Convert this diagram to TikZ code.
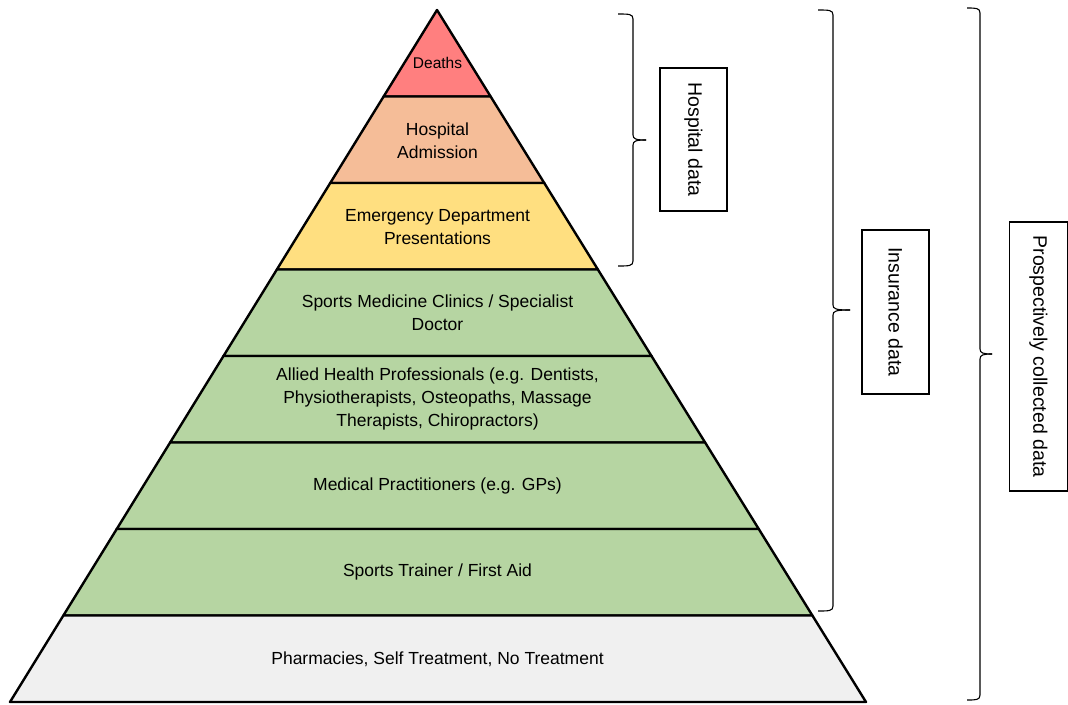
\documentclass[tikz,border=0pt]{standalone}
\usepackage{fontspec}
\setmainfont{Liberation Sans}
\usetikzlibrary{calc}
\definecolor{cdeath}{HTML}{FF7F7F}
\definecolor{chosp}{HTML}{F5BD98}
\definecolor{ced}{HTML}{FFDF80}
\definecolor{cgreen}{HTML}{B6D5A2}
\definecolor{cgrey}{HTML}{F0F0F0}
\newcommand\curlybrace[7]{%
  \coordinate (#1-top) at (#2,#5);
  \coordinate (#1-tip) at (#4,#6);
  \coordinate (#1-bot) at (#2,#7);
  \draw[bracepen] (#1-top) .. controls (#3-4,#5) and (#3,#5) .. (#3,#5+5)
     -- (#3,#6-5) .. controls (#3,#6-1) and (#3+3,#6) .. (#1-tip);
  \draw[bracepen] (#1-bot) .. controls (#3-4,#7) and (#3,#7) .. (#3,#7-5)
     -- (#3,#6+5) .. controls (#3,#6+1) and (#3+3,#6) .. (#1-tip);
}
\begin{document}
\begin{tikzpicture}[x=1pt,y=-1pt,
  layer/.style={draw=black,line width=2.4pt,line join=round},
  lbl/.style={align=center,font=\fontsize{17.5}{23}\selectfont,inner sep=0pt},
  bracepen/.style={line width=1.1pt},
  sidebox/.style={draw,line width=1.1pt,rotate=-90,inner sep=0pt,
    font=\fontsize{19.5}{22}\selectfont}]
\useasboundingbox (0,0) rectangle (1068,704);
\coordinate (A) at (437,10);
\coordinate (BL) at (10,702);
\coordinate (BR) at (866,702);
\coordinate (L0) at (A); \coordinate (R0) at (A);
\foreach \k in {1,...,7}{
  \coordinate (L\k) at ($(A)!\k/8!(BL)$);
  \coordinate (R\k) at ($(A)!\k/8!(BR)$);
}
\coordinate (L8) at (BL); \coordinate (R8) at (BR);
% layers
\filldraw[layer,fill=cdeath] (A) -- (R1) -- (L1) -- cycle;
\filldraw[layer,fill=chosp] (L1) -- (R1) -- (R2) -- (L2) -- cycle;
\filldraw[layer,fill=ced] (L2) -- (R2) -- (R3) -- (L3) -- cycle;
\filldraw[layer,fill=cgreen] (L3) -- (R3) -- (R4) -- (L4) -- cycle;
\filldraw[layer,fill=cgreen] (L4) -- (R4) -- (R5) -- (L5) -- cycle;
\filldraw[layer,fill=cgreen] (L5) -- (R5) -- (R6) -- (L6) -- cycle;
\filldraw[layer,fill=cgreen] (L6) -- (R6) -- (R7) -- (L7) -- cycle;
\filldraw[layer,fill=cgrey] (L7) -- (R7) -- (R8) -- (L8) -- cycle;
% labels
\node[lbl,font=\fontsize{15.5}{18}\selectfont] (deaths) at (437.5,63) {Deaths};
\node[lbl] (hosp) at (437.5,140.5) {Hospital\\Admission};
\node[lbl] (ed) at (437.5,227) {Emergency Department\\Presentations};
\node[lbl] (smc) at (437.5,313) {Sports Medicine Clinics / Specialist\\Doctor};
\node[lbl] (ahp) at (437.5,399) {Allied Health Professionals (e.g. Dentists,\\Physiotherapists, Osteopaths, Massage\\Therapists, Chiropractors)};
\node[lbl] (mp) at (437.5,486) {Medical Practitioners (e.g. GPs)};
\node[lbl] (st) at (437.5,572) {Sports Trainer / First Aid};
\node[lbl] (ph) at (437.5,659) {Pharmacies, Self Treatment, No Treatment};
% braces
\curlybrace{hb}{618}{633}{646}{14}{140}{266}
\curlybrace{ib}{818}{833}{850}{10}{310}{611}
\curlybrace{pb}{967}{980}{992}{8}{354}{700}
% side boxes
\node[sidebox,minimum width=143,minimum height=67] (hbox) at (693.5,139.5) {Hospital data};
\node[sidebox,minimum width=164,minimum height=67] (ibox) at (895.5,312) {Insurance data};
\node[sidebox,minimum width=269,minimum height=58] (pbox) at (1038.5,356.5) {Prospectively collected data};
\end{tikzpicture}
\end{document}
